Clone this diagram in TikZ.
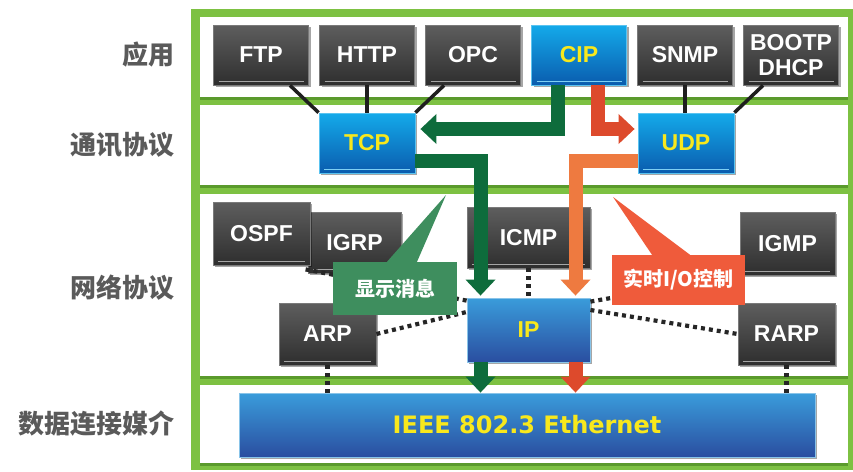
\documentclass[tikz,border=0pt]{standalone}
\usepackage{fontspec}
\setmainfont{Liberation Sans}
\newfontfamily\cjk{Noto Sans CJK SC}
\newfontfamily\dvs{DejaVu Sans}
\usetikzlibrary{arrows.meta,shadows}
\definecolor{frameg}{HTML}{7DC142}
\definecolor{frameshadow}{HTML}{3F7A1A}
\definecolor{boxtop}{HTML}{5E5E5E}
\definecolor{boxbot}{HTML}{2E2E2E}
\definecolor{boxedge}{HTML}{7A7A7A}
\definecolor{bluetop}{HTML}{14AAEA}
\definecolor{bluebot}{HTML}{0A5CAE}
\definecolor{iptop}{HTML}{3A9CDB}
\definecolor{ipbot}{HTML}{2A4EA0}
\definecolor{txty}{HTML}{F8E81C}
\definecolor{argreen}{HTML}{0E6C3C}
\definecolor{arred}{HTML}{DD4A2C}
\definecolor{arorange}{HTML}{EE7A40}
\definecolor{callg}{HTML}{3E8E5E}
\definecolor{callr}{HTML}{EF5B3B}
\definecolor{lblgray}{HTML}{5A5A5A}
\begin{document}
\begin{tikzpicture}[x=1pt,y=-1pt,
  box/.style={rectangle, minimum width=95pt, minimum height=60pt, inner sep=0pt,
    line width=0.8pt, align=center, font=\bfseries\fontsize{23}{24}\selectfont,
    drop shadow={shadow xshift=2pt, shadow yshift=-2pt, opacity=0.35, fill=black}},
  darkbox/.style={box, top color=boxtop, bottom color=boxbot, draw=boxedge, text=white,
    path picture={\draw[line width=1.4pt, black!35]
      ([shift={(5pt,3.5pt)}]path picture bounding box.south west) --
      ([shift={(-5pt,3.5pt)}]path picture bounding box.south east);}},
  bluebox/.style={box, top color=bluetop, bottom color=bluebot, draw=bluetop!70!white, text=txty,
    path picture={\draw[line width=1.4pt, bluetop!55!white]
      ([shift={(5pt,3.5pt)}]path picture bounding box.south west) --
      ([shift={(-5pt,3.5pt)}]path picture bounding box.south east);}},
  ipbox/.style={box, top color=iptop, bottom color=ipbot, draw=iptop!60!white, text=txty},
  panel/.style={fill=white, drop shadow={shadow xshift=0pt, shadow yshift=-3pt, opacity=0.55, fill=frameshadow}},
  lbl/.style={anchor=east, text=lblgray, font=\cjk\bfseries\fontsize{26}{28}\selectfont},
  conn/.style={line width=3.5pt, black!88},
  dotline/.style={line width=4.2pt, black!85, dash pattern=on 4pt off 4pt},
  bigarrow/.style={line width=14pt, -{Triangle[width=29pt,length=16pt]}},
  callout/.style={rectangle, inner sep=0pt, text=white, font=\cjk\bfseries\fontsize{20}{22}\selectfont}
]
\useasboundingbox (0,0) rectangle (853,471);
% frame and row panels
\fill[frameg] (191,9) rectangle (853,470);
\path[panel] (200,17) rectangle (848,97);
\path[panel] (200,105) rectangle (848,185);
\path[panel] (200,194) rectangle (848,376);
\path[panel] (200,385) rectangle (848,463);

% layer labels
\node[lbl] (lapp) at (178,55) {应用};
\node[lbl] (ltrans) at (178,145) {通讯协议};
\node[lbl] (lnet) at (178,288) {网络协议};
\node[lbl] (llink) at (178,424) {数据连接媒介};

% application row
\node[darkbox] (ftp) at (261,55) {FTP};
\node[darkbox] (http) at (367,55) {HTTP};
\node[darkbox] (opc) at (473,55) {OPC};
\node[bluebox] (cip) at (579,55) {CIP};
\node[darkbox] (snmp) at (685,55) {SNMP};
\node[darkbox, font=\bfseries\fontsize{23}{25}\selectfont] (bootp) at (791,55) {BOOTP\\DHCP};

% transport row
\node[bluebox, minimum width=96pt] (tcp) at (367,143) {TCP};
\node[bluebox, minimum width=96pt] (udp) at (686,143) {UDP};

% network row
\node[darkbox, minimum width=93pt, minimum height=61pt] (igrp) at (354.5,242.5) {IGRP};
\node[darkbox, minimum width=97pt, minimum height=63pt] (ospf) at (261.5,233.5) {OSPF};
\node[darkbox, minimum width=123pt, minimum height=61pt] (icmp) at (528.5,237.5) {ICMP};
\node[darkbox, minimum width=95pt, minimum height=63pt] (igmp) at (787.5,243.5) {IGMP};
\node[darkbox, minimum width=97pt, minimum height=62pt] (arp) at (327.5,334) {ARP};
\node[darkbox, minimum width=97pt, minimum height=62pt] (rarp) at (786.5,334) {RARP};
\node[ipbox, minimum width=123pt, minimum height=64pt] (ip) at (528.5,330) {IP};

% link row
\node[ipbox, minimum width=576pt, minimum height=64pt, font=\dvs\bfseries\fontsize{24}{26}\selectfont] (eth) at (527,425) {IEEE 802.3 Ethernet};

% solid connectors application -> transport
\draw[conn] ([xshift=29pt]ftp.south) -- (tcp.north west);
\draw[conn] (http.south) -- (http.south |- tcp.north);
\draw[conn] ([xshift=-29pt]opc.south) -- (tcp.north east);
\draw[conn] (snmp.south) -- (snmp.south |- udp.north);
\draw[conn] ([xshift=-28pt]bootp.south) -- (udp.north east);

% dotted connectors
\draw[dotline] (icmp.south) -- (ip.north);
\draw[dotline] (arp.east) -- ([yshift=18pt]ip.west);
\draw[dotline] ([shift={(-2pt,4pt)}]igrp.south west) -- ([yshift=-3pt]ip.north west);
\draw[dotline] ([yshift=-4pt]ip.north east) -- (igmp.south west);
\draw[dotline] ([yshift=20pt]ip.east) -- (rarp.west);
\draw[dotline] (arp.south) -- (arp.south |- eth.north);
\draw[dotline] (rarp.south) -- (rarp.south |- eth.north);

% big arrows
\draw[bigarrow, argreen] ([xshift=-21pt]cip.south) |- ([shift={(5pt,14pt)}]tcp.east);
\draw[bigarrow, arred] ([xshift=19pt]cip.south) |- ([shift={(-3pt,14pt)}]udp.west);
\draw[bigarrow, argreen] ([yshift=-18pt]tcp.east) -| ([shift={(-48pt,2pt)}]ip.north);
\draw[bigarrow, arorange] ([yshift=-18pt]udp.west) -| ([shift={(47pt,2pt)}]ip.north);
\draw[bigarrow, argreen] ([xshift=-48pt]ip.south) -- ([xshift=-48pt]ip.south |- eth.north);
\draw[bigarrow, arred] ([xshift=47pt]ip.south) -- ([xshift=47pt]ip.south |- eth.north);

% callouts
\node[callout, fill=callg, minimum width=124pt, minimum height=53pt] (msg) at (395,288.5) {显示消息};
\coordinate (gtip) at (446,195);
\fill[callg] (gtip) -- ([xshift=-8pt]msg.north) -- ([xshift=22pt]msg.north) -- cycle;
\node[callout, fill=callr, minimum width=133pt, minimum height=50pt] (rt) at (678.5,280) {实时I/O控制};
\coordinate (rtip) at (613,197);
\fill[callr] (rtip) -- ([xshift=-26.5pt]rt.north) -- ([xshift=11.5pt]rt.north) -- cycle;
\end{tikzpicture}
\end{document}
